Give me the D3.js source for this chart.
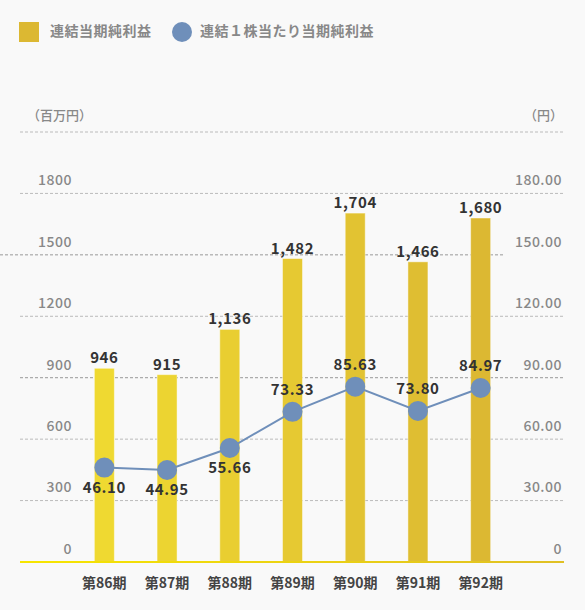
<!DOCTYPE html>
<html>
<head>
<meta charset="utf-8">
<script src="https://cdn.jsdelivr.net/npm/d3@7/dist/d3.min.js"></script>
<style>
  html, body { margin: 0; padding: 0; background: #f9f9f9; }
  svg { display: block; font-family: "Noto Sans CJK JP", "Noto Sans", sans-serif; }
</style>
</head>
<body>
<svg id="chart" width="585" height="610"></svg>
<script>
const categories = ["第86期", "第87期", "第88期", "第89期", "第90期", "第91期", "第92期"];
const netIncome = [946, 915, 1136, 1482, 1704, 1466, 1680];
const eps = [46.10, 44.95, 55.66, 73.33, 85.63, 73.80, 84.97];
const epsLabelBelow = [true, true, true, false, false, false, false];
const leftTicks = [0, 300, 600, 900, 1200, 1500, 1800];
const rightTicks = [0, 30, 60, 90, 120, 150, 180];
const legendLabels = ["連結当期純利益", "連結１株当たり当期純利益"];
const leftTitle = "（百万円）";
const rightTitle = "（円）";

const svg = d3.select("#chart");
const plotLeft = 20, plotRight = 564, plotTop = 132, plotBottom = 562;

const yL = d3.scaleLinear().domain([0, 2100]).range([plotBottom, plotTop]);
const yR = d3.scaleLinear().domain([0, 210]).range([plotBottom, plotTop]);
const x = d3.scaleBand().domain(categories).range([73, 512]).paddingInner(0).paddingOuter(0);
const barW = 20;

const barColor = d3.scaleLinear().domain([0, categories.length - 1])
  .range(["#efd931", "#dcb832"]).interpolate(d3.interpolateRgb);

// gridlines (incl. top line)
const gridVals = leftTicks.filter(v => v > 0).concat([2100]);
svg.append("g").selectAll("line").data(gridVals).join("line")
  .attr("x1", d => d === 1500 ? 0 : plotLeft)
  .attr("x2", d => d === 1500 ? 503 : plotRight)
  .attr("y1", d => yL(d)).attr("y2", d => yL(d))
  .attr("stroke", d => (d === 900 || d === 1500) ? "#999" : "#bbb")
  .attr("stroke-width", 1)
  .attr("stroke-dasharray", "3,2");

// axis titles
svg.append("text").attr("x", 27).attr("y", 116).attr("dominant-baseline", "middle")
  .attr("font-size", 13).attr("font-weight", 500).attr("fill", "#888").text(leftTitle);
svg.append("text").attr("x", 563).attr("y", 116).attr("dominant-baseline", "middle")
  .attr("text-anchor", "end").attr("font-size", 13).attr("font-weight", 500).attr("fill", "#888").text(rightTitle);

// left tick labels
svg.append("g").selectAll("text").data(leftTicks).join("text")
  .attr("x", 72).attr("y", d => yL(d) - 12)
  .attr("text-anchor", "end").attr("dominant-baseline", "middle")
  .attr("font-size", 14).attr("font-weight", 500).attr("fill", "#888")
  .attr("letter-spacing", 0.5)
  .text(d => d3.format("d")(d));

// right tick labels
svg.append("g").selectAll("text").data(rightTicks).join("text")
  .attr("x", 562).attr("y", d => yR(d) - 12)
  .attr("text-anchor", "end").attr("dominant-baseline", "middle")
  .attr("font-size", 14).attr("font-weight", 500).attr("fill", "#888")
  .attr("letter-spacing", 0.5)
  .text(d => d === 0 ? "0" : d3.format(".2f")(d));

// bars
svg.append("g").selectAll("rect").data(netIncome).join("rect")
  .attr("x", (d, i) => x(categories[i]) + x.bandwidth() / 2 - barW / 2)
  .attr("y", d => yL(d))
  .attr("width", barW)
  .attr("height", d => yL(0) - yL(d))
  .attr("fill", (d, i) => barColor(i))
  .attr("stroke", "rgba(255,255,255,0.45)")
  .attr("stroke-width", 1);

// baseline (gradient)
const defs = svg.append("defs");
const grad = defs.append("linearGradient").attr("id", "baseGrad")
  .attr("x1", "0%").attr("x2", "100%").attr("y1", "0%").attr("y2", "0%");
grad.append("stop").attr("offset", "0%").attr("stop-color", "#f7e600");
grad.append("stop").attr("offset", "100%").attr("stop-color", "#e0c024");
svg.append("rect").attr("x", plotLeft).attr("y", yL(0) - 1).attr("width", plotRight - plotLeft).attr("height", 2)
  .attr("fill", "url(#baseGrad)");

// bar value labels
svg.append("g").selectAll("text").data(netIncome).join("text")
  .attr("x", (d, i) => x(categories[i]) + x.bandwidth() / 2)
  .attr("y", d => yL(d) - 5)
  .attr("text-anchor", "middle")
  .attr("font-size", 15).attr("font-weight", 700).attr("fill", "#333")
  .attr("letter-spacing", 0.6)
  .text(d => d3.format(",")(d));

// line
const line = d3.line()
  .x((d, i) => x(categories[i]) + x.bandwidth() / 2)
  .y(d => yR(d));
svg.append("path").datum(eps).attr("d", line)
  .attr("fill", "none").attr("stroke", "#6f8fba").attr("stroke-width", 2);

svg.append("g").selectAll("circle").data(eps).join("circle")
  .attr("cx", (d, i) => x(categories[i]) + x.bandwidth() / 2)
  .attr("cy", d => yR(d))
  .attr("r", 10)
  .attr("fill", "#6f8fba");

svg.append("g").selectAll("text").data(eps).join("text")
  .attr("x", (d, i) => x(categories[i]) + x.bandwidth() / 2)
  .attr("y", (d, i) => yR(d) + (epsLabelBelow[i] ? 21 : -21))
  .attr("text-anchor", "middle").attr("dominant-baseline", "middle")
  .attr("font-size", 15).attr("font-weight", 700).attr("fill", "#333")
  .attr("letter-spacing", 0.6)
  .text(d => d3.format(".2f")(d));

// category labels
svg.append("g").selectAll("text").data(categories).join("text")
  .attr("x", d => x(d) + x.bandwidth() / 2)
  .attr("y", 584)
  .attr("text-anchor", "middle").attr("dominant-baseline", "middle")
  .attr("font-size", 14).attr("font-weight", 700).attr("fill", "#444")
  .text(d => d);

// legend
const lg = svg.append("g");
lg.append("rect").attr("x", 19).attr("y", 22).attr("width", 20).attr("height", 20).attr("fill", "#dcb832");
lg.append("text").attr("x", 50).attr("y", 32).attr("dominant-baseline", "middle")
  .attr("font-size", 14).attr("font-weight", 700).attr("fill", "#888").attr("letter-spacing", 0.5)
  .text(legendLabels[0]);
lg.append("circle").attr("cx", 182).attr("cy", 32).attr("r", 10).attr("fill", "#6f8fba");
lg.append("text").attr("x", 200).attr("y", 32).attr("dominant-baseline", "middle")
  .attr("font-size", 14).attr("font-weight", 700).attr("fill", "#888").attr("letter-spacing", 0.5)
  .text(legendLabels[1]);
</script>
</body>
</html>
